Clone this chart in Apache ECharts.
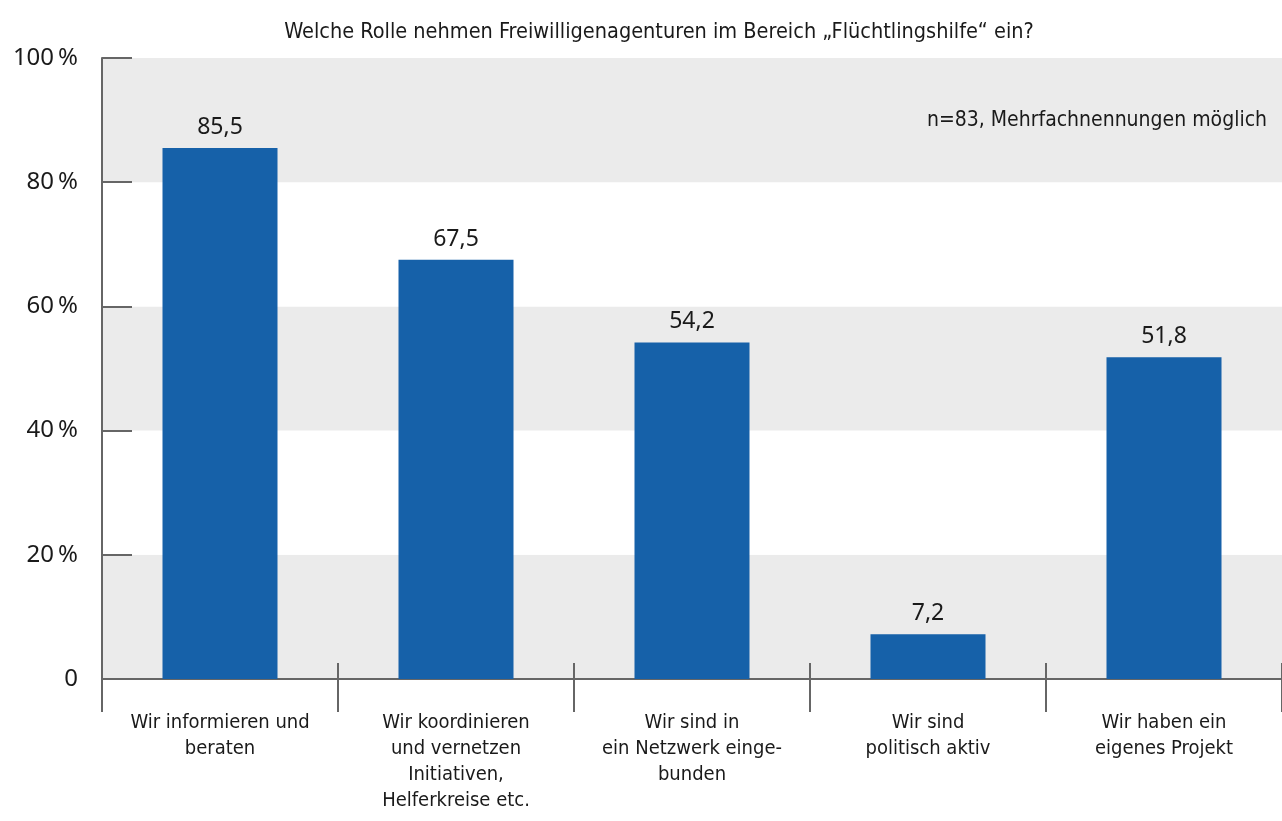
<!DOCTYPE html>
<html>
<head>
<meta charset="utf-8">
<script src="https://cdn.jsdelivr.net/npm/echarts@6/dist/echarts.min.js"></script>
<style>
html,body{margin:0;padding:0;background:#fff;}
#chart{width:1282px;height:821px;}
</style>
</head>
<body>
<div id="chart"></div>
<script>
var titleText = 'Welche Rolle nehmen Freiwilligenagenturen im Bereich \u201EFl\u00FCchtlingshilfe\u201C ein?';
var noteText = 'n=83, Mehrfachnennungen m\u00F6glich';
var categories = [
  'Wir informieren und\nberaten',
  'Wir koordinieren\nund vernetzen\nInitiativen,\nHelferkreise etc.',
  'Wir sind in\nein Netzwerk einge-\nbunden',
  'Wir sind\npolitisch aktiv',
  'Wir haben ein\neigenes Projekt'
];
var values = [85.5, 67.5, 54.2, 7.2, 51.8];
var yTicks = [0, 20, 40, 60, 80, 100];

var condensed = '"Liberation Sans Narrow", "DejaVu Sans Condensed", "Roboto Condensed", sans-serif';
var numFont = '"Noto Sans", "Open Sans", sans-serif';
var axisColor = '#666666';
var textColor = '#1a1a1a';

var chart = echarts.init(document.getElementById('chart'), null, {renderer: 'canvas'});
chart.setOption({
  animation: false,
  backgroundColor: '#ffffff',
  title: [
    {
      text: titleText,
      left: 654, top: 16, textAlign: 'center',
      textStyle: {fontFamily: condensed, fontSize: 21.5, fontWeight: 'normal', color: textColor}
    },
    {
      text: noteText,
      right: 10, top: 105,
      textStyle: {fontFamily: condensed, fontSize: 21, fontWeight: 'normal', color: textColor}
    }
  ],
  grid: {left: 102, right: 0, top: 58, bottom: 142, containLabel: false},
  xAxis: [
    {
      type: 'category',
      data: categories,
      position: 'bottom',
      boundaryGap: true,
      axisLine: {show: true, lineStyle: {color: axisColor, width: 2}},
      axisTick: {show: true, inside: false, length: 33, alignWithLabel: false, lineStyle: {color: axisColor, width: 2}},
      axisLabel: {
        interval: 0, margin: 31,
        fontFamily: condensed, fontSize: 20, color: textColor, lineHeight: 26, align: 'center'
      },
      splitLine: {show: false}
    },
    {
      type: 'category',
      data: categories,
      position: 'bottom',
      boundaryGap: true,
      axisLine: {show: false},
      axisTick: {show: true, inside: true, length: 16, alignWithLabel: false, lineStyle: {color: axisColor, width: 2}},
      axisLabel: {show: false},
      splitLine: {show: false}
    }
  ],
  yAxis: {
    type: 'value',
    min: 0, max: 100, interval: 20,
    axisLine: {show: true, lineStyle: {color: axisColor, width: 2}},
    axisTick: {show: true, inside: true, length: 30, lineStyle: {color: axisColor, width: 2}},
    axisLabel: {
      margin: 24,
      fontFamily: numFont, fontSize: 24, color: textColor,
      formatter: function (v) { return yTicks.indexOf(v) >= 0 ? (v === 0 ? '0' : v + '\u2009%') : ''; }
    },
    splitLine: {show: false},
    splitArea: {show: true, areaStyle: {color: ['#ebebeb', '#ffffff']}}
  },
  series: [{
    type: 'bar',
    data: values,
    xAxisIndex: 0,
    barWidth: 115,
    itemStyle: {color: '#1661a9'},
    label: {
      show: true, position: 'top', distance: 9,
      fontFamily: numFont, fontSize: 23, color: textColor,
      formatter: function (p) { return String(p.value).replace('.', ','); }
    },
    z: 3
  }]
});
</script>
</body>
</html>
